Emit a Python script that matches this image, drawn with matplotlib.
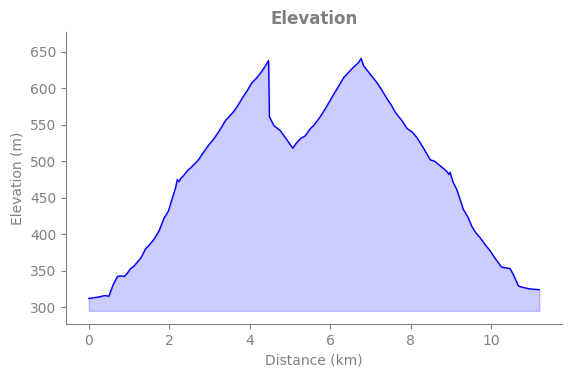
import matplotlib
matplotlib.use('Agg')
import matplotlib.pyplot as plt

# distance (km) and elevation (m)
distance = [0.00, 0.25, 0.40, 0.50, 0.60, 0.71, 0.80, 0.88, 0.95, 1.04, 1.12, 1.21, 1.30,
            1.41, 1.50, 1.62, 1.75, 1.87, 1.98, 2.08, 2.15, 2.20, 2.24, 2.28, 2.35, 2.45,
            2.55, 2.66, 2.74, 2.82, 2.90, 2.99, 3.07, 3.15, 3.28, 3.40, 3.50, 3.60, 3.70,
            3.81, 3.94, 4.06, 4.17, 4.27, 4.37, 4.47, 4.49, 4.60, 4.76, 4.93, 5.07, 5.16,
            5.26, 5.38, 5.51, 5.59, 5.74, 5.88, 6.09, 6.20, 6.34, 6.46, 6.58, 6.70, 6.77,
            6.83, 7.00, 7.16, 7.28, 7.41, 7.52, 7.62, 7.78, 7.91, 8.04, 8.15, 8.32, 8.49,
            8.60, 8.73, 8.82, 8.90, 8.95, 8.98, 9.05, 9.15, 9.31, 9.42, 9.52, 9.62, 9.73,
            9.85, 9.98, 10.10, 10.26, 10.35, 10.47, 10.55, 10.68, 10.80, 10.97, 11.20]
elevation = [312, 314, 316, 315, 330, 342, 343, 342, 346, 353, 356, 362, 368,
             380, 385, 393, 405, 422, 432, 450, 462, 475, 472, 476, 480, 487,
             492, 498, 503, 510, 516, 523, 528, 534, 545, 556, 562, 568, 576,
             586, 597, 608, 614, 621, 629, 638, 561, 549, 542, 529, 518, 525,
             531, 535, 545, 549, 560, 572, 592, 602, 615, 622, 629, 635, 641,
             631, 619, 608, 598, 586, 577, 567, 556, 545, 540, 533, 518, 502,
             500, 494, 490, 486, 482, 485, 472, 461, 434, 424, 411, 402, 395,
             386, 377, 367, 355, 354, 353, 345, 329, 327, 325, 324]
base_elev = 295

fig, ax = plt.subplots(figsize=(5.71, 3.78), dpi=100)
ax.plot(distance, elevation, color='blue', linewidth=1)
ax.fill_between(distance, elevation, base_elev, color='blue', alpha=0.2)

ax.set_xlim(-0.56, 11.76)
ax.set_ylim(277, 677)
ax.set_title('Elevation', color='gray', fontweight='bold', fontsize=12)
ax.set_xlabel('Distance (km)', color='gray')
ax.set_ylabel('Elevation (m)', color='gray')
ax.tick_params(colors='gray')
for s in ['top', 'right']:
    ax.spines[s].set_visible(False)
for s in ['left', 'bottom']:
    ax.spines[s].set_color('gray')

plt.subplots_adjust(left=0.116, right=0.984, top=0.915, bottom=0.143)
plt.savefig('out.png', dpi=100)
